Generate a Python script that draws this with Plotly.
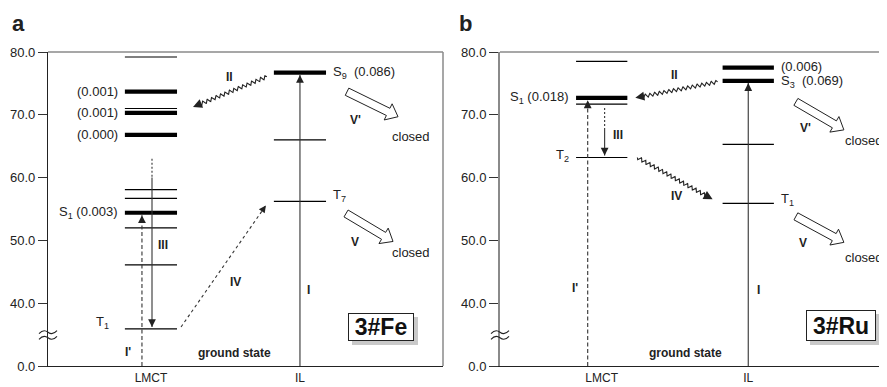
import numpy as np
import plotly.graph_objects as go

W, H = 887, 387          # window size
OX, OY = 8, 8            # page body margin offset
FW, FH = W - OX, H - OY  # figure size so that it fits the window exactly
FONT = "Liberation Sans, Arial, sans-serif"

# ---------------- data ----------------
columns = ["LMCT", "IL"]
ytick_vals = [0.0, 40.0, 50.0, 60.0, 70.0, 80.0]
ytick_text = ["0.0", "40.0", "50.0", "60.0", "70.0", "80.0"]

a_lmct_E = [79.2, 73.7, 71.0, 70.3, 66.8, 58.1, 56.7, 54.4, 52.0, 46.1, 35.9]
a_lmct_bold = [0, 1, 0, 1, 1, 0, 0, 1, 0, 0, 0]
a_il_E = [76.7, 66.0, 56.2]
a_il_bold = [1, 0, 0]

b_lmct_E = [78.5, 72.7, 71.7, 63.2]
b_lmct_bold = [0, 1, 0, 0]
b_il_E = [77.5, 75.4, 65.3, 55.9]
b_il_bold = [1, 1, 0, 0]

a_lmct_labels = {73.7: "(0.001)", 70.3: "(0.001)", 66.8: "(0.000)",
                 54.4: "S<sub>1</sub> (0.003)"}
a_il_labels = {76.7: "S<sub>9</sub>&nbsp; (0.086)", 56.2: "T<sub>7</sub>"}
b_lmct_labels = {72.7: "S<sub>1</sub> (0.018)", 63.2: "T<sub>2</sub>"}
b_il_labels = {77.5: "(0.006)", 75.4: "S<sub>3</sub>&nbsp; (0.069)", 55.9: "T<sub>1</sub>"}

BREAK = 30.0   # display position of the ground state (axis break)


def disp(E):
    return BREAK if E < BREAK else E


# ---------------- geometry (window pixels) ----------------
PY_TOP, PY_BOT = 52, 366
PAN = {
    "a": dict(xa="x", ya="y", px0=48, px1=443, xr=(0.309, 2.96)),
    "b": dict(xa="x2", ya="y2", px0=500, px1=886, xr=(0.306, 2.94)),
}
HW = 0.175  # half width of a level line (x units)


def d2px(p, x, y):
    g = PAN[p]
    px = g["px0"] + (x - g["xr"][0]) / (g["xr"][1] - g["xr"][0]) * (g["px1"] - g["px0"])
    py = PY_BOT - (y - 30) / 50 * (PY_BOT - PY_TOP)
    return px, py


def px2d(p, px, py):
    g = PAN[p]
    x = g["xr"][0] + (px - g["px0"]) / (g["px1"] - g["px0"]) * (g["xr"][1] - g["xr"][0])
    y = 30 + (PY_BOT - py) / (PY_BOT - PY_TOP) * 50
    return x, y


def paper(px, py):
    return (px - OX) / FW, 1 - (py - OY) / FH


fig = go.Figure()
annotations = []
shapes = []


def add_levels(p, xc, Es, bold):
    g = PAN[p]
    for b, width in ((0, 1.2), (1, 4.2)):
        xs, ys = [], []
        for E, bb in zip(Es, bold):
            if bb == b:
                xs += [xc - HW, xc + HW, None]
                ys += [E, E, None]
        if xs:
            fig.add_trace(go.Scatter(x=xs, y=ys, mode="lines", xaxis=g["xa"], yaxis=g["ya"],
                                     line=dict(color="black", width=width),
                                     hoverinfo="skip", showlegend=False))


def add_labels(p, xc, labels, side, dy=None):
    g = PAN[p]
    dy = dy or {}
    for E, t in labels.items():
        annotations.append(dict(
            x=xc - HW if side == "left" else xc + HW, y=E, xref=g["xa"], yref=g["ya"],
            text=t, showarrow=False, xanchor="right" if side == "left" else "left", yanchor="middle",
            xshift=-5 if side == "left" else 5, yshift=dy.get(E, 0),
            font=dict(family=FONT, size=13, color="#222")))


def line(p, xs, ys, dash="solid", color="#333", width=1.1):
    g = PAN[p]
    fig.add_trace(go.Scatter(x=xs, y=ys, mode="lines", xaxis=g["xa"], yaxis=g["ya"],
                             line=dict(color=color, width=width, dash=dash),
                             hoverinfo="skip", showlegend=False))


def head(p, tip, tail_dir_px, color="#222", size=1.3, width=1.2):
    g = PAN[p]
    dx, dy = tail_dir_px
    n = np.hypot(dx, dy)
    annotations.append(dict(x=tip[0], y=tip[1], xref=g["xa"], yref=g["ya"],
                            ax=dx / n * 5, ay=dy / n * 5, axref="pixel", ayref="pixel",
                            showarrow=True, arrowhead=2, arrowsize=size, arrowwidth=width,
                            arrowcolor=color, text="", standoff=0))


def wavy(p, s_px, e_px, amp=1.8, period=4.8):
    (x0, y0), (x1, y1) = s_px, e_px
    L = np.hypot(x1 - x0, y1 - y0)
    ux, uy = (x1 - x0) / L, (y1 - y0) / L
    nx, ny = -uy, ux
    t = np.linspace(0, L - 5, int(L * 4))
    w = amp * np.sin(2 * np.pi * t / period)
    pxs = x0 + ux * t + nx * w
    pys = y0 + uy * t + ny * w
    xs, ys = zip(*[px2d(p, a, b) for a, b in zip(pxs, pys)])
    line(p, list(xs), list(ys), color="#222", width=1.1)
    tip = px2d(p, x1, y1)
    head(p, tip, (-ux, -uy), size=1.5, width=1.2)


def straight_head_line(p, s_px, e_px, dash):
    s = px2d(p, *s_px)
    e = px2d(p, *e_px)
    line(p, [s[0], e[0]], [s[1], e[1]], dash=dash, color="#333", width=1.1)
    head(p, e, (s_px[0] - e_px[0], s_px[1] - e_px[1]), size=1.3, width=1.1)


def hollow(p, tail_px, tip_px, hw=4.0, hh=9.0, hl=11):
    (x0, y0), (x1, y1) = tail_px, tip_px
    L = np.hypot(x1 - x0, y1 - y0)
    ux, uy = (x1 - x0) / L, (y1 - y0) / L
    nx, ny = -uy, ux
    sx, sy = x1 - ux * hl, y1 - uy * hl
    pts = [(x0 + nx * hw, y0 + ny * hw), (sx + nx * hw, sy + ny * hw), (sx + nx * hh, sy + ny * hh),
           (x1, y1), (sx - nx * hh, sy - ny * hh), (sx - nx * hw, sy - ny * hw),
           (x0 - nx * hw, y0 - ny * hw), (x0 + nx * hw, y0 + ny * hw)]
    xs, ys = zip(*[px2d(p, a, b) for a, b in pts])
    g = PAN[p]
    fig.add_trace(go.Scatter(x=list(xs), y=list(ys), mode="lines", fill="toself",
                             fillcolor="white", xaxis=g["xa"], yaxis=g["ya"],
                             line=dict(color="#222", width=1), hoverinfo="skip", showlegend=False))


def text(px, py, t, size=12, bold=True, anchor="center", color="#222"):
    x, y = paper(px, py)
    annotations.append(dict(x=x, y=y, xref="paper", yref="paper", text=f"<b>{t}</b>" if bold else t,
                            showarrow=False, xanchor=anchor, yanchor="middle",
                            font=dict(family=FONT, size=size, color=color)))


# ================= Panel a =================
XL, XI = 1, 2
add_levels("a", XL, a_lmct_E, a_lmct_bold)
add_levels("a", XI, a_il_E, a_il_bold)
add_labels("a", XL, a_lmct_labels, "left")
annotations.append(dict(x=XL - HW, y=a_lmct_E[-1], xref="x", yref="y", text="T<sub>1</sub>",
                        showarrow=False, xanchor="right", yanchor="middle", xshift=-14, yshift=6,
                        font=dict(family=FONT, size=13, color="#222")))
add_labels("a", XI, a_il_labels, "right", dy={56.2: 6})

# I : ground -> S9
line("a", [XI, XI], [disp(0), a_il_E[0] - 0.35])
head("a", (XI, a_il_E[0] - 0.35), (0, 1))
# I' dashed : ground -> S1
xi_ = px2d("a", d2px("a", XL, 0)[0] - 9, 0)[0]
line("a", [xi_, xi_], [disp(0), a_lmct_E[7] - 0.4], dash="4px,2.5px")
head("a", (xi_, a_lmct_E[7] - 0.4), (0, 1))
# III : dotted then solid down to T1
x3 = XL + 0.007
line("a", [x3, x3], [63.0, 60.0], dash="2px,2px")
line("a", [x3, x3], [60.0, a_lmct_E[-1] + 0.3])
head("a", (x3, a_lmct_E[-1] + 0.3), (0, -1))
# IV dotted : T1 -> T7
t1r = d2px("a", XL + HW, a_lmct_E[-1])
t7l = d2px("a", XI - HW, a_il_E[2])
straight_head_line("a", (t1r[0] + 4, t1r[1] - 2), (t7l[0] - 8, t7l[1] + 4), dash="3px,3px")
# II wavy : S9 -> LMCT
s9l = d2px("a", XI - HW, a_il_E[0])
lm = d2px("a", XL + HW, a_lmct_E[3])
wavy("a", (s9l[0] - 7, s9l[1] + 4), (lm[0] + 16, lm[1] - 6))
# V', V hollow
s9r = d2px("a", XI + HW, a_il_E[0])
hollow("a", (s9r[0] + 21, s9r[1] + 19), (s9r[0] + 72, s9r[1] + 44))
t7r = d2px("a", XI + HW, a_il_E[2])
hollow("a", (t7r[0] + 20, t7r[1] + 12), (t7r[0] + 67, t7r[1] + 40))

text(230, 77, "II")
text(163, 245, "III")
text(236, 282, "IV")
text(308, 290, "I")
text(128, 352, "I'")
text(355, 120, "V'")
text(355, 242, "V")
text(411, 136, "closed", size=13, bold=False)
text(411, 252, "closed", size=13, bold=False)
text(235, 353, "ground state", size=12)

# ================= Panel b =================
add_levels("b", XL, b_lmct_E, b_lmct_bold)
add_levels("b", XI, b_il_E, b_il_bold)
add_labels("b", XL, b_lmct_labels, "left", dy={63.2: 2})
add_labels("b", XI, {77.5: b_il_labels[77.5], 75.4: b_il_labels[75.4]}, "right", dy={77.5: 1, 75.4: -1})
annotations.append(dict(x=XI + HW, y=b_il_E[-1], xref="x2", yref="y2", text="T<sub>1</sub>",
                        showarrow=False, xanchor="left", yanchor="middle", xshift=5, yshift=4,
                        font=dict(family=FONT, size=13, color="#222")))

# I : ground -> S3
line("b", [XI, XI], [disp(0), b_il_E[1] - 0.35])
head("b", (XI, b_il_E[1] - 0.35), (0, 1))
# I' dashed : ground -> S1
xib = px2d("b", d2px("b", XL, 0)[0] - 14, 0)[0]
line("b", [xib, xib], [disp(0), b_lmct_E[1] - 0.4], dash="4px,2.5px")
head("b", (xib, b_lmct_E[1] - 0.4), (0, 1))
# III : dotted then solid down to T2
x3b = XL + 0.02
line("b", [x3b, x3b], [71.1, 67.9], dash="2px,2px")
line("b", [x3b, x3b], [67.9, b_lmct_E[3] + 0.3])
head("b", (x3b, b_lmct_E[3] + 0.3), (0, -1))
# II wavy : S3 -> S1
s3l = d2px("b", XI - HW, b_il_E[1])
s1r = d2px("b", XL + HW, b_lmct_E[1])
wavy("b", (s3l[0] - 5, s3l[1] + 1), (s1r[0] + 8, s1r[1]))
# IV wavy : T2 -> T1
t2r = d2px("b", XL + HW, b_lmct_E[3])
t1l = d2px("b", XI - HW, b_il_E[3])
wavy("b", (t2r[0] + 10, t2r[1]), (t1l[0] - 10, t1l[1] - 4))
# V', V hollow
s3r = d2px("b", XI + HW, b_il_E[1])
hollow("b", (s3r[0] + 22, s3r[1] + 21), (s3r[0] + 70, s3r[1] + 49))
t1r_b = d2px("b", XI + HW, b_il_E[3])
hollow("b", (t1r_b[0] + 22, t1r_b[1] + 13), (t1r_b[0] + 70, t1r_b[1] + 39))

text(674, 75, "II")
text(618, 135, "III")
text(676, 196, "IV")
text(758, 290, "I")
text(575, 288, "I'")
text(805, 128, "V'")
text(803, 243, "V")
text(864, 140, "closed", size=13, bold=False)
text(864, 257, "closed", size=13, bold=False)
text(685, 353, "ground state", size=12)

# panel letters
text(18, 23, "a", size=22)
text(465, 23, "b", size=22)

# label boxes with shadow
for (bx0, by0, bx1, by1, t) in [(348, 313, 414, 341, "3#Fe"), (806, 310, 876, 341, "3#Ru")]:
    sx0, sy0 = paper(bx0 + 4, by0 + 4)
    sx1, sy1 = paper(bx1 + 4, by1 + 4)
    shapes.append(dict(type="rect", xref="paper", yref="paper", x0=sx0, x1=sx1, y0=sy1, y1=sy0,
                       fillcolor="#c9c9c9", line=dict(width=0), layer="above"))
    cx, cy = paper((bx0 + bx1) / 2, (by0 + by1) / 2)
    annotations.append(dict(x=cx, y=cy, xref="paper", yref="paper", text=f"<b>{t}</b>",
                            showarrow=False, bordercolor="#222", borderwidth=1, bgcolor="white",
                            xanchor="center", yanchor="middle",
                            width=bx1 - bx0 - 4, height=by1 - by0 - 4, borderpad=1,
                            font=dict(family=FONT, size=23, color="#111")))

# frame lines (top, right) in gray
for (x0, y0, x1, y1) in [(48, 52, 443, 52), (443, 52, 443, 366), (500, 52, 887, 52)]:
    a0 = paper(x0, y0)
    a1 = paper(x1, y1)
    shapes.append(dict(type="line", xref="paper", yref="paper", x0=a0[0], y0=a0[1], x1=a1[0], y1=a1[1],
                       line=dict(color="#8a8a8a", width=1.5)))

# axis break symbols
for axpx in (48, 500):
    for off in (-2.8, 2.8):
        cy = 335 + off
        pts = [(axpx - 9, cy + 1.5), (axpx - 4.5, cy - 3.5), (axpx, cy), (axpx + 4.5, cy + 3.5), (axpx + 9, cy - 1.5)]
        pp = [paper(a, b) for a, b in pts]
        path = (f"M{pp[0][0]},{pp[0][1]} Q{pp[1][0]},{pp[1][1]} {pp[2][0]},{pp[2][1]} "
                f"Q{pp[3][0]},{pp[3][1]} {pp[4][0]},{pp[4][1]}")
        shapes.append(dict(type="path", xref="paper", yref="paper", path=path,
                           line=dict(color="#222", width=1.1)))

ydom = [1 - (PY_BOT - OY) / FH, 1 - (PY_TOP - OY) / FH]


def yaxis_cfg(linecolor, lw):
    return dict(domain=ydom, range=[30, 80], tickvals=[disp(v) for v in ytick_vals], ticktext=ytick_text,
                ticks="outside", ticklen=9, tickcolor="#333", showline=True, linecolor=linecolor,
                linewidth=lw, showgrid=False, zeroline=False, automargin=False,
                tickfont=dict(family=FONT, size=13, color="#222"))


def xaxis_cfg(p, anchor):
    g = PAN[p]
    return dict(domain=[(g["px0"] - OX) / FW, (g["px1"] - OX) / FW], range=list(g["xr"]), anchor=anchor,
                tickvals=[XL, XI], ticktext=columns, ticks="", showline=True, linecolor="#222",
                linewidth=1.2, showgrid=False, zeroline=False, automargin=False,
                tickfont=dict(family=FONT, size=12, color="#222"))


fig.update_layout(
    width=FW, height=FH, autosize=False, margin=dict(l=0, r=0, t=0, b=0, pad=0),
    paper_bgcolor="white", plot_bgcolor="white",
    xaxis=xaxis_cfg("a", "y"), yaxis=dict(**yaxis_cfg("#222", 1.2), anchor="x"),
    xaxis2=xaxis_cfg("b", "y2"), yaxis2=dict(**yaxis_cfg("#8a8a8a", 2), anchor="x2"),
    annotations=annotations, shapes=shapes, showlegend=False,
)

fig.write_html("out.html")
